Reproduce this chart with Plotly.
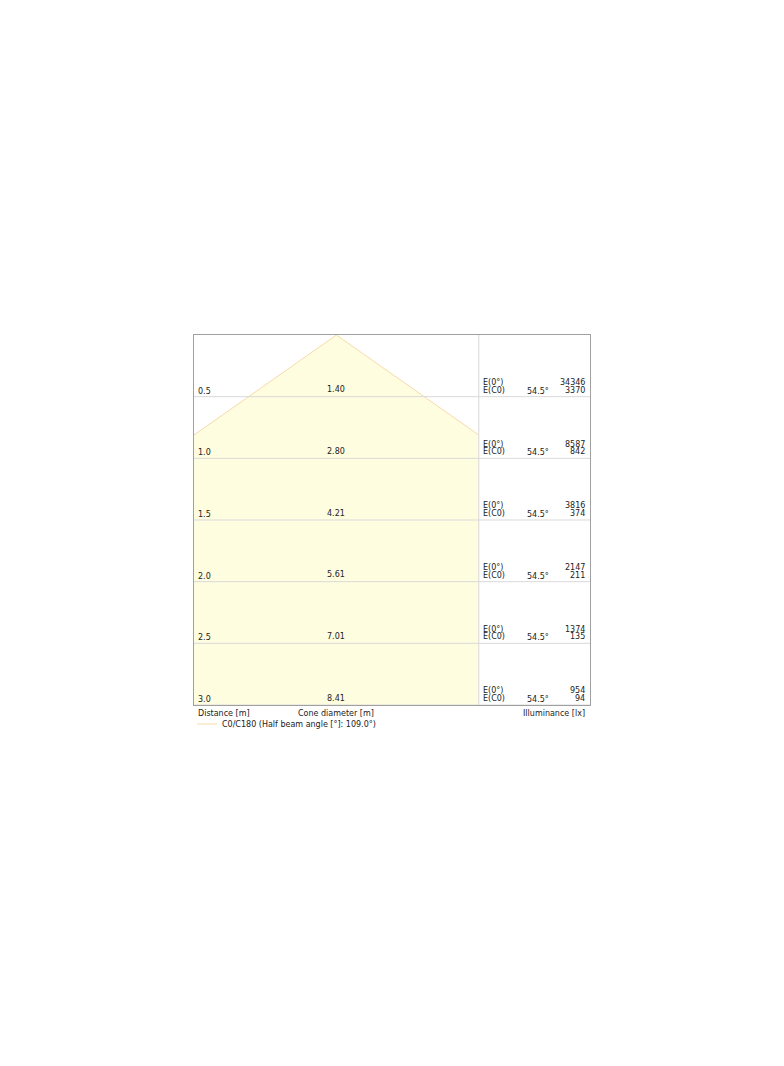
import numpy as np
import plotly.graph_objects as go

# cone diagram data
distances = [0.5, 1.0, 1.5, 2.0, 2.5, 3.0]
cone_diameters = ["1.40", "2.80", "4.21", "5.61", "7.01", "8.41"]
e_center = [34346, 8587, 3816, 2147, 1374, 954]
e_c0 = [3370, 842, 374, 211, 135, 94]
half_angle = 54.5
beam_angle = 109.0
legend_name = "C0/C180 (Half beam angle [°]: 109.0°)"

FONT = dict(family="DejaVu Sans", size=8, color="#222")
GRID = "#d9d9d9"
EDGE = "#f7d9ab"

# cone panel is clipped at this half width [m]
half_w = 1.137
d_max = max(distances)
slope = np.tan(np.radians(half_angle))
d_clip = half_w / slope

# filled cone, clipped at the panel edges
cone_x = [0, half_w, half_w, -half_w, -half_w, 0]
cone_y = [0, d_clip, d_max, d_max, d_clip, 0]

fig = go.Figure()
fig.add_trace(go.Scatter(x=cone_x, y=cone_y, fill="toself", mode="none",
                         fillcolor="#fffde0", hoverinfo="skip", showlegend=False))
# cone edges
fig.add_trace(go.Scatter(x=[-half_w, 0, half_w], y=[d_clip, 0, d_clip], mode="lines",
                         line=dict(color=EDGE, width=1), name=legend_name,
                         showlegend=False))

# right panel width in metres (111 px at 125 px/m)
x_right = half_w + 111 / 125.0

# grid lines on top of the fill
for d in distances:
    fig.add_shape(type="line", xref="paper", x0=0, x1=1, yref="y", y0=d, y1=d,
                  line=dict(color=GRID, width=1), layer="above")
fig.add_shape(type="line", xref="x", x0=half_w, x1=half_w, yref="y", y0=0, y1=d_max,
              line=dict(color=GRID, width=1), layer="above")

ann = []
for d, dia, e0, ec in zip(distances, cone_diameters, e_center, e_c0):
    ann.append(dict(x=0.005, xref="paper", y=d, yref="y", yshift=-1, text=f"{d:.1f}",
                    xanchor="left", yanchor="bottom", showarrow=False, font=FONT))
    ann.append(dict(x=0, xref="x", y=d, yref="y", yshift=0.5, text=dia,
                    xanchor="center", yanchor="bottom", showarrow=False, font=FONT))
    ann.append(dict(x=0.7255, xref="paper", y=d, yref="y", yshift=7.7, text="E(0°)",
                    xanchor="left", yanchor="bottom", showarrow=False, font=FONT))
    ann.append(dict(x=0.7255, xref="paper", y=d, yref="y", text="E(C0)",
                    xanchor="left", yanchor="bottom", showarrow=False, font=FONT))
    ann.append(dict(x=0.8687, xref="paper", y=d, yref="y", yshift=-1, text=f"{half_angle}°",
                    xanchor="center", yanchor="bottom", showarrow=False, font=FONT))
    ann.append(dict(x=0.9925, xref="paper", y=d, yref="y", yshift=7.7, text=str(e0),
                    xanchor="right", yanchor="bottom", showarrow=False, font=FONT))
    ann.append(dict(x=0.9925, xref="paper", y=d, yref="y", text=str(ec),
                    xanchor="right", yanchor="bottom", showarrow=False, font=FONT))

# column captions under the box
ann.append(dict(x=0.005, xref="paper", y=0, yref="paper", yshift=-2, text="Distance [m]",
                xanchor="left", yanchor="top", showarrow=False, font=FONT))
ann.append(dict(x=0, xref="x", y=0, yref="paper", yshift=-2, text="Cone diameter [m]",
                xanchor="center", yanchor="top", showarrow=False, font=FONT))
ann.append(dict(x=0.9925, xref="paper", y=0, yref="paper", yshift=-2, text="Illuminance [lx]",
                xanchor="right", yanchor="top", showarrow=False, font=FONT))

# legend drawn by hand (short line + label)
fig.add_shape(type="line", xref="paper", x0=0.0076, x1=0.058, yref="paper",
              y0=-0.0514, y1=-0.0514, line=dict(color=EDGE, width=1))
ann.append(dict(x=0.066, xref="paper", y=-0.0514, yref="paper", text=legend_name,
                xanchor="left", yanchor="middle", showarrow=False, font=FONT))

fig.update_layout(
    width=784, height=1066,
    margin=dict(l=186, r=202, t=327, b=369),
    paper_bgcolor="white", plot_bgcolor="white",
    font=FONT,
    annotations=ann,
    showlegend=False,
)
fig.update_xaxes(range=[-half_w, x_right], showgrid=False, zeroline=False,
                 showticklabels=False, showline=True, mirror=True,
                 linecolor="#a0a0a0", linewidth=1, fixedrange=True)
fig.update_yaxes(range=[d_max, 0], showgrid=False, zeroline=False,
                 showticklabels=False, showline=True, mirror=True,
                 linecolor="#a0a0a0", linewidth=1, fixedrange=True)

fig.write_html("out.html")
